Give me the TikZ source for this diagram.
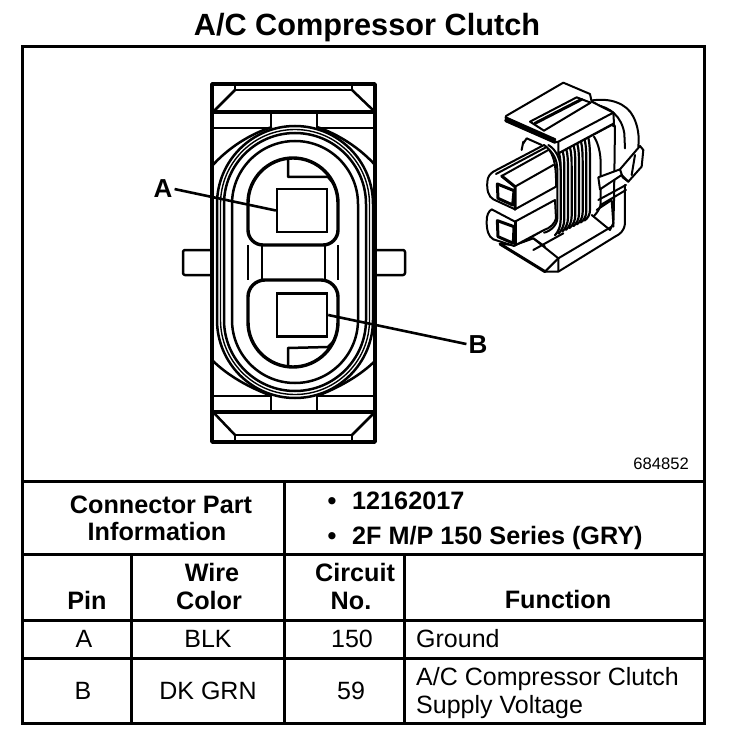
\documentclass[tikz,border=0pt]{standalone}
\usepackage{fontspec}
\setmainfont{Liberation Sans}
\newcommand{\stadpath}[1]{(295-#1,204) arc (180:360:#1) -- (295+#1,320) arc (0:180:#1) -- cycle}
\tikzset{
  txt/.style={inner sep=0pt,anchor=base,font=\fontsize{25}{26}\selectfont},
  txtl/.style={txt,anchor=base west},
  head/.style={inner sep=0pt,anchor=base,font=\bfseries\fontsize{25.2}{26}\selectfont},
  headl/.style={head,anchor=base west},
  title/.style={inner sep=0pt,anchor=base,font=\bfseries\fontsize{30.7}{32}\selectfont},
  partno/.style={inner sep=0pt,anchor=base east,font=\fontsize{16.6}{18}\selectfont},
  callout/.style={inner sep=2pt,anchor=base,font=\bfseries\fontsize{26}{26}\selectfont},
  rule/.style={line width=3pt,line cap=rect},
  heavy/.style={line width=3.4pt,line join=round},
  med/.style={line width=2.5pt,line join=round},
  thin1/.style={line width=1.4pt,line join=round},
  pinbox/.style={draw,line width=2.4pt,minimum width=50pt,minimum height=43pt,inner sep=0pt},
  leader/.style={line width=2.6pt},
  sk/.style={line width=2pt,line join=round,line cap=round},
  skh/.style={line width=3pt,line join=round,line cap=round},
  rib/.style={line width=2.2pt,line join=round,line cap=round},
}
\begin{document}
\begin{tikzpicture}[x=1pt,y=-1pt]
\useasboundingbox (0,0) rectangle (752,738);
\fill[white] (0,0) rectangle (752,738);
% title
\node[title] (ttl) at (367,36) {A/C Compressor Clutch};
% table and frame
\draw[rule] (22,47) rectangle (704,723);
\foreach \yy in {481,554,620,658} \draw[rule] (22,\yy) -- (704,\yy);
\draw[rule] (284,481) -- (284,723);
\draw[rule] (131,554) -- (131,723);
\draw[rule] (404,554) -- (404,723);
% main connector: body
\draw[heavy] (212,112) -- (212,84) -- (375,84) -- (375,112);
\draw[heavy] (210,112) -- (377,112);
\draw[med] (235,84) -- (235,90) -- (352,90) -- (352,84);
\draw[med] (235,90) -- (213,112) (352,90) -- (375,112);
\draw[heavy] (212,112) -- (212,412) (375,112) -- (375,412);
\draw[med] (212,128) -- (270,128) (318,128) -- (375,128);
\draw[med] (271,113) -- (271,128) (317,113) -- (317,128);
\draw[heavy] (210,412) -- (377,412);
\draw[heavy] (212,412) -- (212,442) -- (375,442) -- (375,412);
\draw[med] (235,442) -- (235,435) -- (352,435) -- (352,442);
\draw[med] (235,435) -- (213,412) (352,435) -- (375,412);
\draw[med] (212,396) -- (270,396) (318,396) -- (375,396);
\draw[med] (271,396) -- (271,411) (317,396) -- (317,411);
% ears
\draw[med,rounded corners=2pt] (210,250) -- (183,250) -- (183,275) -- (210,275);
\draw[med,rounded corners=2pt] (377,250) -- (405,250) -- (405,275) -- (377,275);
% nested outlines
\draw[med] \stadpath{78};
\draw[thin1] \stadpath{74.5};
\draw[med] \stadpath{71};
\draw[med] \stadpath{63};
\draw[med] (212,166) .. controls (228,148) and (250,134) .. (272,127);
\draw[med] (376,166) .. controls (360,148) and (338,134) .. (317,127);
\draw[med] (212,360) .. controls (228,376) and (250,388) .. (272,396);
\draw[med] (376,360) .. controls (360,376) and (338,388) .. (317,396);
% cavities
\draw[heavy] (248,203) arc (180:360:45) -- (338,230) arc (0:90:15) -- (263,245) arc (90:180:15) -- cycle;
\draw[heavy] (338,322) arc (0:180:45) -- (248,297) arc (180:270:17) -- (321,280) arc (270:360:17) -- cycle;
\draw[med] (288,158) -- (288,177) -- (328,177) -- (333,183);
\draw[med] (288,367) -- (288,348) -- (328,347) -- (333,342);
\draw[med] (262,245) -- (262,280) (325,245) -- (325,280);
\draw[med] (248,245) -- (248,280) (338,245) -- (338,280);
% pins
\node[pinbox] (pinA) at (302,210.5) {};
\node[pinbox] (pinB) at (302,315) {};
\node[callout] (labA) at (163,198) {A};
\node[callout] (labB) at (478,353) {B};
\draw[leader] (labA.east) -- (pinA.west);
\draw[leader] (labB.west) -- (pinB.east);
\node[partno] (pnum) at (689,469) {684852};
% perspective view
\begin{scope}[shift={(470,90)},x=.3333pt,y=-.3333pt]
% arcs at the back
\draw[sk] (362,32) .. controls (420,22) and (470,40) .. (490,80) .. controls (505,110) and (508,140) .. (505,170);
\draw[sk] (375,45) .. controls (420,50) and (455,80) .. (463,130) -- (465,175);
% recess at the bottom and side
\draw[sk] (465,285) -- (465,400) .. controls (462,425) and (450,432) .. (435,440) -- (265,545);
\draw[sk] (430,100) -- (435,110) -- (432,335) -- (430,410);
\draw[sk] (265,190) -- (425,105) -- (435,110);
\draw[sk] (380,360) -- (425,330) -- (430,400) -- (420,420);
\draw[sk] (365,375) -- (420,420);
% ribs
\foreach \d in {0,11,...,88} {
  \draw[rib] (266+\d,186-.52*\d) .. controls (272+\d,205-.5*\d) and (272+\d,225-.4*\d) .. (272+\d,245-.3*\d) -- (272+\d,390-.35*\d) .. controls (272+\d,410-.4*\d) and (265+\d,425-.45*\d) .. (255+\d,436-.5*\d);
}
\draw[sk] (225,170) .. controls (250,185) and (262,210) .. (262,240) -- (262,385) .. controls (262,405) and (240,425) .. (222,428);
\draw[sk] (235,165) .. controls (260,180) and (272,210) .. (272,240);
\draw[sk] (372,140) .. controls (385,160) and (392,190) .. (392,220) -- (392,340) .. controls (392,350) and (385,365) .. (372,378);
% top plate
\draw[sk,fill=white] (265,155) -- (365,35) -- (430,68) -- (432,100) -- (265,190) -- cycle;
\fill[white] (108,78) -- (280,-22) -- (360,12) -- (365,35) -- (430,68) -- (265,155) -- (255,157) -- (107,92) -- cycle;
\draw[sk] (255,157) -- (107,92) -- (108,78) -- (280,-22) -- (360,12) -- (365,35) -- (430,68);
\draw[skh] (107,92) -- (255,157) (108,84) -- (255,149);
\draw[sk] (265,155) -- (430,68) (265,155) -- (255,157);
\draw[sk] (180,95) -- (320,22) -- (362,38) -- (222,122) -- cycle;
\draw[skh] (195,100) -- (335,28);
\draw[sk] (160,160) -- (170,145) -- (215,165);
\draw[sk] (155,180) -- (160,155);
% ear on the right
\draw[sk,fill=white] (385,262) -- (450,238) -- (510,168) -- (520,180) -- (515,230) -- (475,275) -- (455,255) -- (390,298) -- cycle;
\draw[sk] (450,238) -- (458,262) -- (475,275);
\draw[sk] (495,195) -- (485,255);
\draw[sk] (385,330) -- (468,285);
\draw[sk] (392,345) -- (468,300);
% tray
\draw[sk,fill=white] (135,465) -- (190,445) -- (265,505) -- (265,545) -- (225,545) -- (90,462) -- cycle;
\draw[sk] (265,505) -- (225,545);
\draw[skh] (90,462) -- (225,545);
\draw[sk] (265,505) -- (425,410);
\draw[sk] (160,455) -- (220,420) (190,480) -- (280,430);
\draw[sk] (190,445) -- (225,470);
% upper plug
\draw[sk,fill=white] (70,245) -- (222,165) .. controls (245,180) and (260,210) .. (258,290) -- (135,358) -- (70,328) .. controls (55,320) and (50,300) .. (52,275) .. controls (53,260) and (60,252) .. (70,245) -- cycle;
\draw[sk] (95,258) -- (235,180);
\draw[sk] (78,252) -- (228,172);
\draw[sk] (135,290) -- (250,225);
\draw[skh] (95,258) -- (135,290) -- (135,358);
\draw[skh] (82,282) -- (132,302) -- (128,345) -- (84,325) -- cycle;
% lower plug
\draw[sk,fill=white] (65,358) -- (135,395) -- (255,330) -- (258,385) .. controls (255,400) and (240,415) .. (222,420) -- (132,468) -- (70,448) .. controls (55,440) and (50,420) .. (50,395) .. controls (50,375) and (55,365) .. (65,358) -- cycle;
\draw[skh] (135,395) -- (135,465);
\draw[skh] (82,392) -- (132,410) -- (130,460) -- (84,440) -- cycle;
\end{scope}
% table text
\node[head] (t1) at (161,513) {Connector Part};
\node[head] (t2) at (157,540) {Information};
\node[head] (b1) at (332,509) {•};
\node[headl] (t3) at (352,509) {12162017};
\node[head] (b2) at (332,544) {•};
\node[headl] (t4) at (352,544) {2F M/P 150 Series (GRY)};
\node[head] (h1) at (87,609) {Pin};
\node[head] (h2) at (212,581) {Wire};
\node[head] (h3) at (209,609) {Color};
\node[head] (h4) at (355,581) {Circuit};
\node[head] (h5) at (351,609) {No.};
\node[head] (h6) at (558,608) {Function};
\node[txt] (a1) at (84,647) {A};
\node[txt] (a2) at (208,647) {BLK};
\node[txt] (a3) at (352,647) {150};
\node[txtl] (a4) at (416,647) {Ground};
\node[txt] (r1) at (83,699) {B};
\node[txt] (r2) at (208,699) {DK GRN};
\node[txt] (r3) at (351,699) {59};
\node[txtl] (r4) at (416,685) {A/C Compressor Clutch};
\node[txtl] (r5) at (416,713) {Supply Voltage};
\end{tikzpicture}
\end{document}
